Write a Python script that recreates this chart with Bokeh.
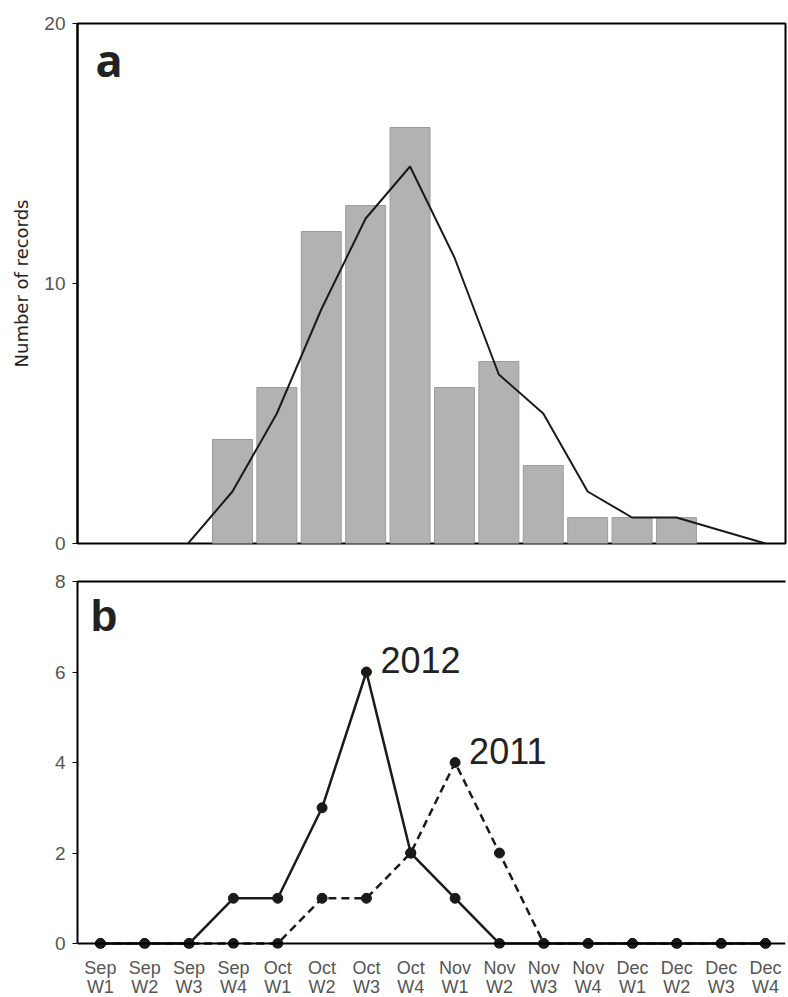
import math
from bokeh.plotting import figure
from bokeh.models import Range1d, FixedTicker, LinearAxis, Span, Label, ColumnDataSource, CDSView, BooleanFilter
from bokeh.layouts import column
from bokeh.embed import file_html
from bokeh.resources import INLINE

# ---- data ----
weeks = ["Sep W1", "Sep W2", "Sep W3", "Sep W4",
         "Oct W1", "Oct W2", "Oct W3", "Oct W4",
         "Nov W1", "Nov W2", "Nov W3", "Nov W4",
         "Dec W1", "Dec W2", "Dec W3", "Dec W4"]
records = [0, 0, 0, 4, 6, 12, 13, 16, 6, 7, 3, 1, 1, 1, 0, 0]
records_trend = [float("nan"), float("nan"), 0, 2, 5, 9, 12.5, 14.5, 11, 6.5, 5, 2, 1, 1, 0.5, 0]
ind_2012 = [0, 0, 0, 1, 1, 3, 6, 2, 1, 0, 0, 0, 0, 0, 0, 0]
ind_2011 = [0, 0, 0, 0, 0, 1, 1, 2, 4, 2, 0, 0, 0, 0, 0, 0]
ticks_a = [0, 10, 20]
ticks_b = [0, 2, 4, 6, 8]

idx = list(range(len(weeks)))
src = ColumnDataSource(dict(x=idx, rec=records, trend=records_trend, y12=ind_2012, y11=ind_2011))
bar_view = CDSView(filter=BooleanFilter([r > 0 for r in records]))

TICK_FONT = "Liberation Sans"
TICK_COLOR = "#555555"
INK = "#1a1a1a"

# ---- panel a ----
p1 = figure(width=788, height=562, x_range=Range1d(-0.49, 15.456), y_range=Range1d(0, 20),
            output_backend="svg", toolbar_location=None,
            min_border_left=77, min_border_right=3, min_border_top=23, min_border_bottom=19)
p1.grid.visible = False
p1.xaxis.visible = False
p1.outline_line_color = "black"
p1.outline_line_width = 2
p1.outline_line_alpha = 1
p1.background_fill_color = "white"
p1.border_fill_color = "white"

p1.vbar(x="x", top="rec", width=0.9, source=src, view=bar_view,
        fill_color="#b2b2b2", line_color="#9c9c9c", line_width=1)
p1.line(x="x", y="trend", source=src, line_color=INK, line_width=2)

ya = p1.yaxis[0]
ya.ticker = FixedTicker(ticks=ticks_a)
ya.minor_tick_line_color = None
ya.major_tick_out = 5
ya.major_tick_in = 0
ya.major_tick_line_color = "black"
ya.axis_line_color = "black"
ya.axis_line_width = 2
ya.major_label_standoff = 7
ya.major_label_text_font = TICK_FONT
ya.major_label_text_font_size = "19px"
ya.major_label_text_color = TICK_COLOR
ya.axis_label = "Number of records"
ya.axis_label_text_font = "DejaVu Sans"
ya.axis_label_text_font_size = "18px"
ya.axis_label_text_font_style = "normal"
ya.axis_label_text_color = "#222222"
ya.axis_label_standoff = 9

p1.add_layout(Label(x=-0.085, y=18.6, text="a", text_font="Open Sans", text_font_style="bold",
                    text_font_size="45px", text_color="#222222", text_baseline="middle"))

# ---- panel b ----
p2 = figure(width=788, height=446, x_range=Range1d(-0.516, 15.451), y_range=Range1d(-0.11, 8),
            output_backend="svg", toolbar_location=None,
            min_border_left=77, min_border_right=0, min_border_top=19, min_border_bottom=60)
p2.grid.visible = False
p2.outline_line_color = None
p2.background_fill_color = "white"
p2.border_fill_color = "white"

p2.add_layout(Span(location=0, dimension="width", line_color="black", line_width=2))

p2.line(x="x", y="y11", source=src, line_color=INK, line_width=2.5, line_dash="8 5")
p2.scatter(x="x", y="y11", source=src, size=10, fill_color=INK, line_color=INK)
p2.line(x="x", y="y12", source=src, line_color=INK, line_width=2.5)
p2.scatter(x="x", y="y12", source=src, size=10, fill_color=INK, line_color=INK)

yb = p2.yaxis[0]
yb.ticker = FixedTicker(ticks=ticks_b)
yb.bounds = (0, 8)
yb.minor_tick_line_color = None
yb.major_tick_out = 5
yb.major_tick_in = 0
yb.major_tick_line_color = "black"
yb.axis_line_color = "black"
yb.axis_line_width = 2
yb.major_label_standoff = 7
yb.major_label_text_font = TICK_FONT
yb.major_label_text_font_size = "19px"
yb.major_label_text_color = TICK_COLOR

xb = p2.xaxis[0]
xb.ticker = FixedTicker(ticks=idx)
xb.major_label_overrides = {i: w.replace(" ", "\n") for i, w in zip(idx, weeks)}
xb.axis_line_color = None
xb.major_tick_line_color = None
xb.minor_tick_line_color = None
xb.major_label_standoff = 3
xb.major_label_text_font = TICK_FONT
xb.major_label_text_font_size = "18px"
xb.major_label_text_color = TICK_COLOR
xb.major_label_text_line_height = 0.95

top_axis = LinearAxis(ticker=FixedTicker(ticks=[]), axis_line_color="black", axis_line_width=2,
                      major_tick_line_color=None, minor_tick_line_color=None,
                      major_label_text_font_size="0px")
p2.add_layout(top_axis, "above")

LABEL_LIFT = 0.26  # raises the year labels so their baseline sits at the peak point
p2.add_layout(Label(x=-0.224, y=7.25, text="b", text_font="Liberation Sans", text_font_style="bold",
                    text_font_size="44px", text_color="#222222", text_baseline="middle"))
p2.add_layout(Label(x=idx[6], y=ind_2012[6] + LABEL_LIFT, x_offset=14, text="2012",
                    text_font="Liberation Sans", text_font_size="36px", text_color="#222222",
                    text_baseline="middle"))
p2.add_layout(Label(x=idx[8], y=ind_2011[8] + LABEL_LIFT, x_offset=14, text="2011",
                    text_font="Liberation Sans", text_font_size="36px", text_color="#222222",
                    text_baseline="middle"))
p2.add_layout(Label(x=-1.886, y=3.49, text="Number of individuals", angle=math.pi / 2,
                    text_font="DejaVu Sans", text_font_size="18px", text_color="#222222",
                    text_align="center", text_baseline="middle"))

layout = column(p1, p2, spacing=0)
open("out.html", "w").write(file_html(layout, INLINE))
